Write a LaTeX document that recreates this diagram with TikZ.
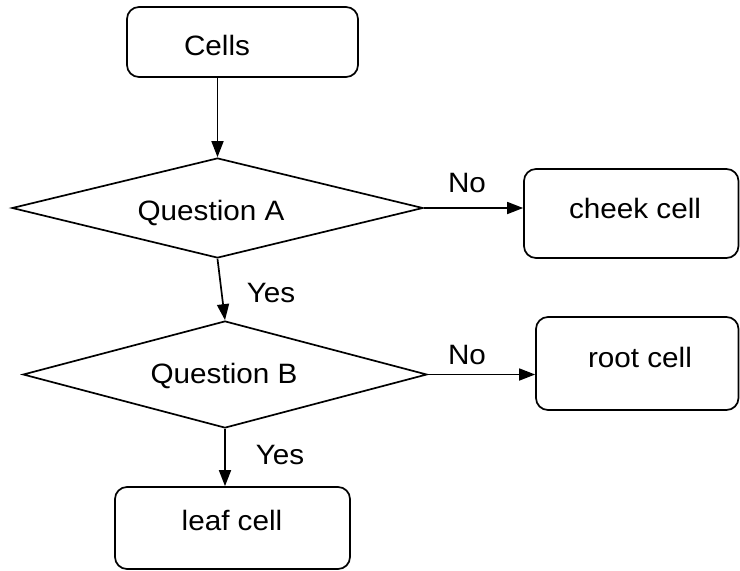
\documentclass[tikz,border=0pt]{standalone}
\usepackage{fontspec}
\setmainfont{Liberation Sans}
\usetikzlibrary{shapes.geometric,arrows.meta}
\newcommand{\wtxt}[1]{\scalebox{1.06}[1]{#1}}
\tikzset{
  box/.style={draw, line width=1.7pt, rounded corners=12pt, inner sep=0pt},
  dia/.style={draw, diamond, line width=1.7pt, inner sep=0pt},
  lbl/.style={font=\fontsize{28}{32}\selectfont, inner sep=0pt},
  arr/.style={line width=1.7pt, -{Triangle[length=16pt,width=12pt]}},
}
\begin{document}
\begin{tikzpicture}[x=1pt,y=-1pt]
\useasboundingbox (0,0) rectangle (740,571);
% boxes
\node[box, minimum width=231pt, minimum height=70pt] (cells) at (242.5,42) {};
\node[box, minimum width=214.5pt, minimum height=89pt] (cheek) at (631.25,213.5) {};
\node[box, minimum width=202.5pt, minimum height=93pt] (root) at (637.25,363.5) {};
\node[box, minimum width=235pt, minimum height=82pt] (leaf) at (232.5,528) {};
% diamonds
\node[dia, minimum width=411pt, minimum height=100pt] (dA) at (217.5,208) {};
\node[dia, minimum width=404pt, minimum height=107pt] (dB) at (225,374.5) {};
% texts
\node[lbl] (cellsT) at (217,45) {\wtxt{Cells}};
\node[lbl] (cheekT) at (635,208) {\wtxt{cheek cell}};
\node[lbl] (rootT) at (640,357) {\wtxt{root cell}};
\node[lbl] (leafT) at (232,520) {\wtxt{leaf cell}};
\node[lbl] (qA) at (211,213) {\wtxt{Question A}};
\node[lbl] (qB) at (224,376) {\wtxt{Question B}};
\node[lbl] (noA) at (467,183) {\wtxt{No}};
\node[lbl] (noB) at (467,355) {\wtxt{No}};
\node[lbl] (yesA) at (271,293) {\wtxt{Yes}};
\node[lbl] (yesB) at (280,455) {\wtxt{Yes}};
% connectors
\draw[arr] (dA.north |- cells.south) -- (dA.north);
\draw[arr] (dA.east) -- (dA.east -| cheek.west);
\draw[arr] (dA.south) -- (dB.north);
\draw[arr] (dB.east) -- (dB.east -| root.west);
\draw[arr] (dB.south) -- (dB.south |- leaf.north);
\end{tikzpicture}
\end{document}
